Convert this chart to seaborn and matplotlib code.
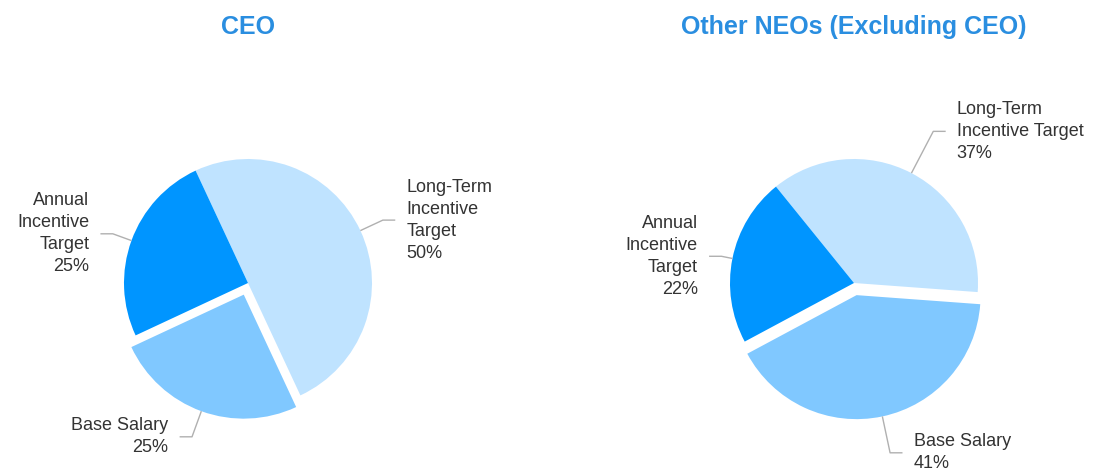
import numpy as np
import seaborn as sns
import matplotlib.pyplot as plt

# data
titles = ['CEO', 'Other NEOs (Excluding CEO)']
ceo_labels = ['Long-Term\nIncentive\nTarget', 'Base Salary', 'Annual\nIncentive\nTarget']
neo_labels = ['Long-Term\nIncentive Target', 'Base Salary', 'Annual\nIncentive\nTarget']
ceo_values = [50, 25, 25]
neo_values = [37, 41, 22]

# layout / style
colors = ['#BFE3FF', '#80C8FF', '#0095FF']
explode = [0, 0.1, 0]
start_angles = [115, 129]
centers = [(248, 283), (854, 283)]   # pixel centre of each pie (from top-left)
R = 124                               # pie radius in pixels
elbow_r = [[1.2, 1.22, 1.16], [1.38, 1.3, 1.09]]
W, H = 1101, 472

sns.set_theme(style='white')
plt.rcParams['font.family'] = ['Liberation Sans', 'DejaVu Sans']

fig = plt.figure(figsize=(W / 100, H / 100), dpi=100)

charts = [(ceo_labels, ceo_values), (neo_labels, neo_values)]
for i, (labels, values) in enumerate(charts):
    cx, cy = centers[i]
    Lx, Ly = 2.0, 1.5
    ax = fig.add_axes([(cx - Lx * R) / W, (H - cy - Ly * R) / H,
                       2 * Lx * R / W, 2 * Ly * R / H])
    wedges, _ = ax.pie(values, colors=colors, explode=explode, startangle=start_angles[i],
                       counterclock=False, radius=1.0,
                       wedgeprops=dict(linewidth=0))
    ax.set_aspect('auto')
    ax.set_xlim(-Lx, Lx)
    ax.set_ylim(-Ly, Ly)
    ax.axis('off')

    for j, w in enumerate(wedges):
        mid = np.deg2rad((w.theta1 + w.theta2) / 2)
        ox, oy = w.center
        ax0 = ox + np.cos(mid) * 1.0
        ay0 = oy + np.sin(mid) * 1.0
        er = elbow_r[i][j]
        ex = ox + np.cos(mid) * er
        ey = oy + np.sin(mid) * er
        side = 1 if np.cos(mid) >= 0 else -1
        hx = ex + side * 0.1
        ax.plot([ax0, ex, hx], [ay0, ey, ey], color='#B0B0B0', lw=1.0,
                solid_capstyle='butt', clip_on=False)
        txt = f'{labels[j]}\n{values[j]}%'
        ax.text(hx + side * 0.09, ey, txt, ha='left' if side > 0 else 'right',
                va='center', fontsize=13, color='#333333', linespacing=1.38,
                multialignment='left' if side > 0 else 'right', clip_on=False)

    ax.text(0, (cy - 27) / R, titles[i], ha='center', va='center', fontsize=18,
            fontweight='bold', color='#2A8EE0', clip_on=False)

fig.savefig('out.png', dpi=100)
